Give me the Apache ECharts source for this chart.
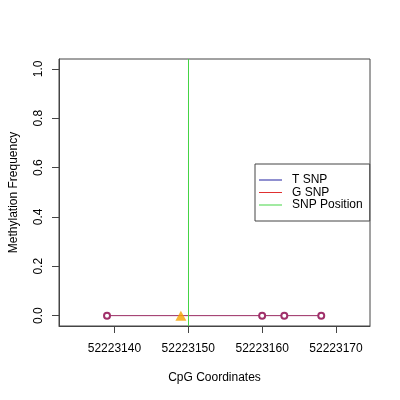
<!DOCTYPE html>
<html>
<head>
<meta charset="utf-8">
<script src="https://cdn.jsdelivr.net/npm/echarts@6/dist/echarts.min.js"></script>
<style>
html, body { margin: 0; padding: 0; background: #fff; }
#chart { width: 400px; height: 400px; }
</style>
</head>
<body>
<div id="chart"></div>
<script>
// CpG positions and methylation values
var cpgPos = [52223139, 52223149, 52223160, 52223163, 52223168];
var methFreq = [0, 0, 0, 0, 0];
// SNP marker (triangle) and SNP position line
var snpCpg = [52223149];
var snpFreq = [0];
var snpPosition = 52223150;
// tick labels
var xTicks = [52223140, 52223150, 52223160, 52223170];
var yTicks = [0, 0.2, 0.4, 0.6, 0.8, 1.0];
var legendNames = ['T SNP', 'G SNP', 'SNP Position'];

var font = 'Liberation Sans, Arial, Helvetica, sans-serif';
var myChart = echarts.init(document.getElementById('chart'));

// the CpG under the SNP triangle gets no circle
var pts = cpgPos.map(function (x, i) {
    var item = { value: [x, methFreq[i]] };
    if (snpCpg.indexOf(x) >= 0) item.symbol = 'none';
    return item;
});
var snpPts = snpCpg.map(function (x, i) { return [x, snpFreq[i]]; });

var option = {
    animation: false,
    backgroundColor: '#fff',
    grid: {
        left: 59, right: 30, top: 59, bottom: 74,
        show: true, borderColor: '#444', borderWidth: 1, backgroundColor: 'transparent'
    },
    legend: {
        orient: 'vertical',
        left: 255, top: 164,
        data: legendNames,
        icon: 'rect',
        itemWidth: 23, itemHeight: 1, itemGap: 0.5,
        padding: [10, 7, 10, 4],
        borderColor: '#444', borderWidth: 1,
        backgroundColor: '#fff',
        selectedMode: false,
        textStyle: { fontFamily: font, fontSize: 12, color: '#000', padding: [0, 0, 0, 5] }
    },
    xAxis: {
        type: 'value',
        min: 52223132.5, max: 52223174.6,
        name: 'CpG Coordinates',
        nameLocation: 'middle', nameGap: 46,
        nameTextStyle: { fontFamily: font, fontSize: 12, color: '#000' },
        axisLine: { show: true, onZero: false, lineStyle: { color: '#444' } },
        axisTick: { show: true, length: 7, customValues: xTicks, lineStyle: { color: '#444' } },
        axisLabel: {
            customValues: xTicks, margin: 17,
            fontFamily: font, fontSize: 12, color: '#000',
            formatter: function (v) { return String(v); }
        },
        splitLine: { show: false }
    },
    yAxis: {
        type: 'value',
        min: -0.042, max: 1.04,
        name: 'Methylation Frequency',
        nameLocation: 'middle', nameGap: 39,
        nameTextStyle: { fontFamily: font, fontSize: 12, color: '#000' },
        axisLine: { show: true, onZero: false, lineStyle: { color: '#444' } },
        axisTick: { show: true, length: 7, customValues: yTicks, lineStyle: { color: '#444' } },
        axisLabel: {
            customValues: yTicks, margin: 14, rotate: 90,
            fontFamily: font, fontSize: 12, color: '#000',
            formatter: function (v) { return v.toFixed(1); }
        },
        splitLine: { show: false }
    },
    series: [
        {
            name: 'T SNP', type: 'line', data: [],
            itemStyle: { color: '#2020a0' }, lineStyle: { color: '#2020a0', width: 1 }
        },
        {
            name: 'G SNP', type: 'line', data: [],
            itemStyle: { color: '#e03030' }, lineStyle: { color: '#e03030', width: 1 }
        },
        {
            name: 'SNP Position', type: 'line', data: [],
            itemStyle: { color: '#44d444' }, lineStyle: { color: '#44d444', width: 1 },
            markLine: {
                silent: true, symbol: 'none',
                label: { show: false },
                lineStyle: { color: '#44d444', width: 1, type: 'solid' },
                data: [{ xAxis: snpPosition }]
            }
        },
        {
            name: 'meth', type: 'line', data: pts,
            symbol: 'emptyCircle', symbolSize: 6, showAllSymbol: true,
            itemStyle: { color: '#a0306a', borderWidth: 1 },
            lineStyle: { color: '#9b2c63', width: 1 },
            z: 3
        },
        {
            name: 'snp', type: 'scatter', data: snpPts,
            symbol: 'triangle', symbolSize: [11, 10],
            itemStyle: { color: '#f5a300' },
            z: 5
        }
    ]
};
myChart.setOption(option, true);
</script>
</body>
</html>
